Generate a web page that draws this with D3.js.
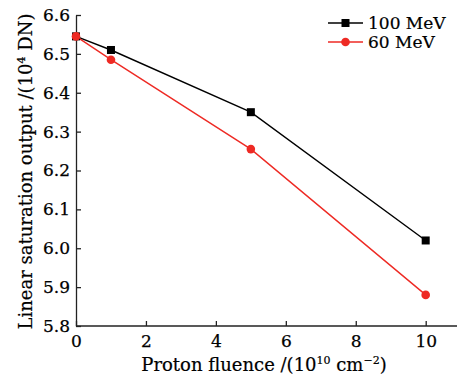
<!DOCTYPE html>
<html><head><meta charset="utf-8">
<script src="https://cdn.jsdelivr.net/npm/d3@7"></script>
<style>body{margin:0;background:#fff}svg{display:block}text{font-family:"DejaVu Serif",serif}</style>
</head><body>
<script>
const fluence = [0, 1, 5, 10];
const mev100 = [6.545, 6.51, 6.35, 6.02];
const mev60 = [6.545, 6.485, 6.255, 5.88];
const xTicks = [0, 2, 4, 6, 8, 10];
const yTicks = [5.8, 5.9, 6.0, 6.1, 6.2, 6.3, 6.4, 6.5, 6.6];
const seriesNames = ["100 MeV", "60 MeV"];
const seriesColors = ["#000000", "#ee2a24"];

const W = 457, H = 379;
const svg = d3.select("body").append("svg").attr("width", W).attr("height", H);
const x = d3.scaleLinear().domain([0, 10]).range([76, 425.7]);
const y = d3.scaleLinear().domain([5.8, 6.6]).range([326, 15]);

// axes
const xAxis = svg.append("g").attr("transform", `translate(0,${y(5.8)})`)
  .call(d3.axisBottom(x).tickValues(xTicks).tickSizeInner(-5).tickSizeOuter(0).tickPadding(9).tickFormat(d3.format("d")));
xAxis.select(".domain").attr("d", `M${x(0)},0H${W}`);
const yAxis = svg.append("g").attr("transform", `translate(${x(0)},0)`)
  .call(d3.axisLeft(y).tickValues(yTicks).tickSizeInner(-5).tickSizeOuter(0).tickPadding(6).tickFormat(d3.format(".1f")));
[xAxis, yAxis].forEach(a => {
  a.selectAll("text").attr("font-family", '"DejaVu Serif", serif').attr("font-size", 17).attr("fill", "#000")
    .attr("stroke", "#000").attr("stroke-width", 0.25);
  a.selectAll("line,.domain").attr("stroke", "#222").attr("stroke-width", 1.3);
});
xAxis.selectAll("text").attr("dy", "0.71em");

// titles
const xt = svg.append("text").attr("x", 264).attr("y", 371).attr("text-anchor", "middle")
  .attr("font-size", 18).attr("fill", "#000").attr("stroke", "#000").attr("stroke-width", 0.2);
xt.append("tspan").text("Proton fluence /(10");
xt.append("tspan").attr("font-size", 11).attr("dy", -7).text("10");
xt.append("tspan").attr("dy", 7).text(" cm");
xt.append("tspan").attr("font-size", 11).attr("dy", -7).text("\u22122");
xt.append("tspan").attr("dy", 7).text(")");

const yt = svg.append("text").attr("transform", "translate(32,171.5) rotate(-90)").attr("text-anchor", "middle")
  .attr("font-size", 18).attr("fill", "#000").attr("stroke", "#000").attr("stroke-width", 0.2);
yt.append("tspan").text("Linear saturation output /(10");
yt.append("tspan").attr("font-size", 11).attr("dy", -7).text("4");
yt.append("tspan").attr("dy", 7).text(" DN)");

// series
const series = [mev100, mev60];
const line = d3.line().x((d, i) => x(fluence[i])).y(d => y(d));
series.forEach((vals, si) => {
  svg.append("path").attr("d", line(vals)).attr("fill", "none")
    .attr("stroke", seriesColors[si]).attr("stroke-width", 1.4);
});
series.forEach((vals, si) => {
  vals.forEach((v, i) => {
    if (si === 0) svg.append("rect").attr("x", x(fluence[i]) - 4).attr("y", y(v) - 4)
      .attr("width", 8).attr("height", 8).attr("fill", seriesColors[si]);
    else svg.append("circle").attr("cx", x(fluence[i])).attr("cy", y(v)).attr("r", 4.3)
      .attr("fill", seriesColors[si]);
  });
});

// legend
const lg = svg.append("g");
seriesNames.forEach((n, i) => {
  const ly = 23 + i * 19;
  lg.append("line").attr("x1", 328).attr("x2", 363).attr("y1", ly).attr("y2", ly)
    .attr("stroke", seriesColors[i]).attr("stroke-width", 1.4);
  if (i === 0) lg.append("rect").attr("x", 341.5).attr("y", ly - 4).attr("width", 8).attr("height", 8).attr("fill", seriesColors[i]);
  else lg.append("circle").attr("cx", 345.5).attr("cy", ly).attr("r", 4.3).attr("fill", seriesColors[i]);
  lg.append("text").attr("x", 368).attr("y", ly).attr("dy", "0.35em").attr("font-size", 17)
    .attr("fill", "#000").attr("stroke", "#000").attr("stroke-width", 0.2).text(n);
});
</script>
</body></html>
